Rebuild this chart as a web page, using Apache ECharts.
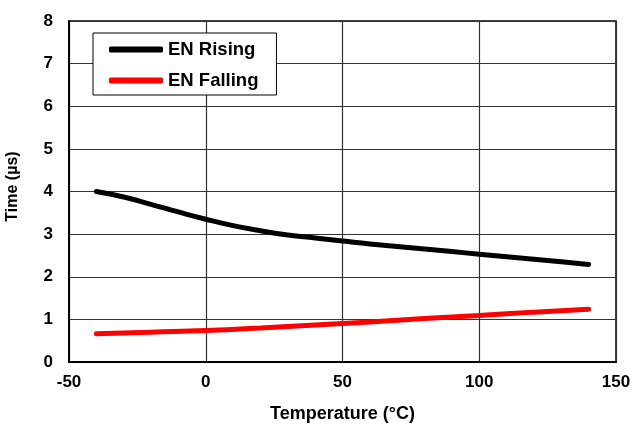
<!DOCTYPE html>
<html><head><meta charset="utf-8">
<script src="https://cdn.jsdelivr.net/npm/echarts@6/dist/echarts.min.js"></script>
<style>html,body{margin:0;padding:0;background:#fff}#c{width:633px;height:426px}</style>
</head><body><div id="c"></div>
<script>
const risingTemp = [-40, -30, -20, -10, 0, 10, 20, 30, 40, 50, 60, 70, 80, 90, 100, 110, 120, 130, 140];
const risingTime = [4.0, 3.87, 3.7, 3.52, 3.35, 3.2, 3.08, 2.98, 2.91, 2.84, 2.77, 2.71, 2.65, 2.59, 2.53, 2.47, 2.41, 2.35, 2.29];
const fallingTemp = [-40, -20, 0, 20, 40, 60, 80, 100, 120, 140];
const fallingTime = [0.66, 0.70, 0.74, 0.80, 0.87, 0.94, 1.02, 1.09, 1.17, 1.24];
const seriesNames = ['EN Rising', 'EN Falling'];
const xTitle = 'Temperature (°C)';
const yTitle = 'Time (µs)';

const font = 'Liberation Sans, Arial, sans-serif';
const chart = echarts.init(document.getElementById('c'));
chart.setOption({
  animation: false,
  grid: { left: 69, right: 17, top: 21, bottom: 64, outerBoundsMode: 'none', containLabel: false,
          show: true, borderColor: '#000', borderWidth: 1.5, backgroundColor: 'transparent' },
  legend: {
    orient: 'vertical', left: 93, top: 33, width: 182,
    backgroundColor: '#fff', borderColor: '#000', borderWidth: 1,
    padding: [7, 18, 5, 16], itemGap: 12, itemWidth: 54, itemHeight: 6, icon: 'roundRect',
    textStyle: { fontFamily: font, fontWeight: 'bold', fontSize: 18.5, color: '#000' },
    data: seriesNames
  },
  xAxis: {
    type: 'value', min: -50, max: 150, interval: 50,
    name: xTitle, nameLocation: 'middle', nameGap: 43,
    nameTextStyle: { fontFamily: font, fontWeight: 'bold', fontSize: 18, color: '#000' },
    axisLine: { show: true, onZero: false, lineStyle: { color: '#000', width: 2 } },
    axisTick: { show: false },
    axisLabel: { fontFamily: font, fontWeight: 'bold', fontSize: 17, color: '#000', margin: 12 },
    splitLine: { show: true, lineStyle: { color: '#333', width: 1.2 } }
  },
  yAxis: {
    type: 'value', min: 0, max: 8, interval: 1,
    name: yTitle, nameLocation: 'middle', nameGap: 48,
    nameTextStyle: { fontFamily: font, fontWeight: 'bold', fontSize: 16, color: '#000', padding: [0, 0, 0, 10] },
    axisLine: { show: true, onZero: false, lineStyle: { color: '#000', width: 2 } },
    axisTick: { show: false },
    axisLabel: { fontFamily: font, fontWeight: 'bold', fontSize: 17, color: '#000', margin: 16 },
    splitLine: { show: true, lineStyle: { color: '#333', width: 1.2 } }
  },
  series: [
    { name: seriesNames[0], type: 'line', smooth: true, showSymbol: false, symbol: 'none',
      data: risingTemp.map((t, i) => [t, risingTime[i]]),
      lineStyle: { color: '#000', width: 5, cap: 'round' }, itemStyle: { color: '#000' } },
    { name: seriesNames[1], type: 'line', smooth: true, showSymbol: false, symbol: 'none',
      data: fallingTemp.map((t, i) => [t, fallingTime[i]]),
      lineStyle: { color: '#ff0000', width: 5, cap: 'round' }, itemStyle: { color: '#ff0000' } }
  ]
});
</script></body></html>
